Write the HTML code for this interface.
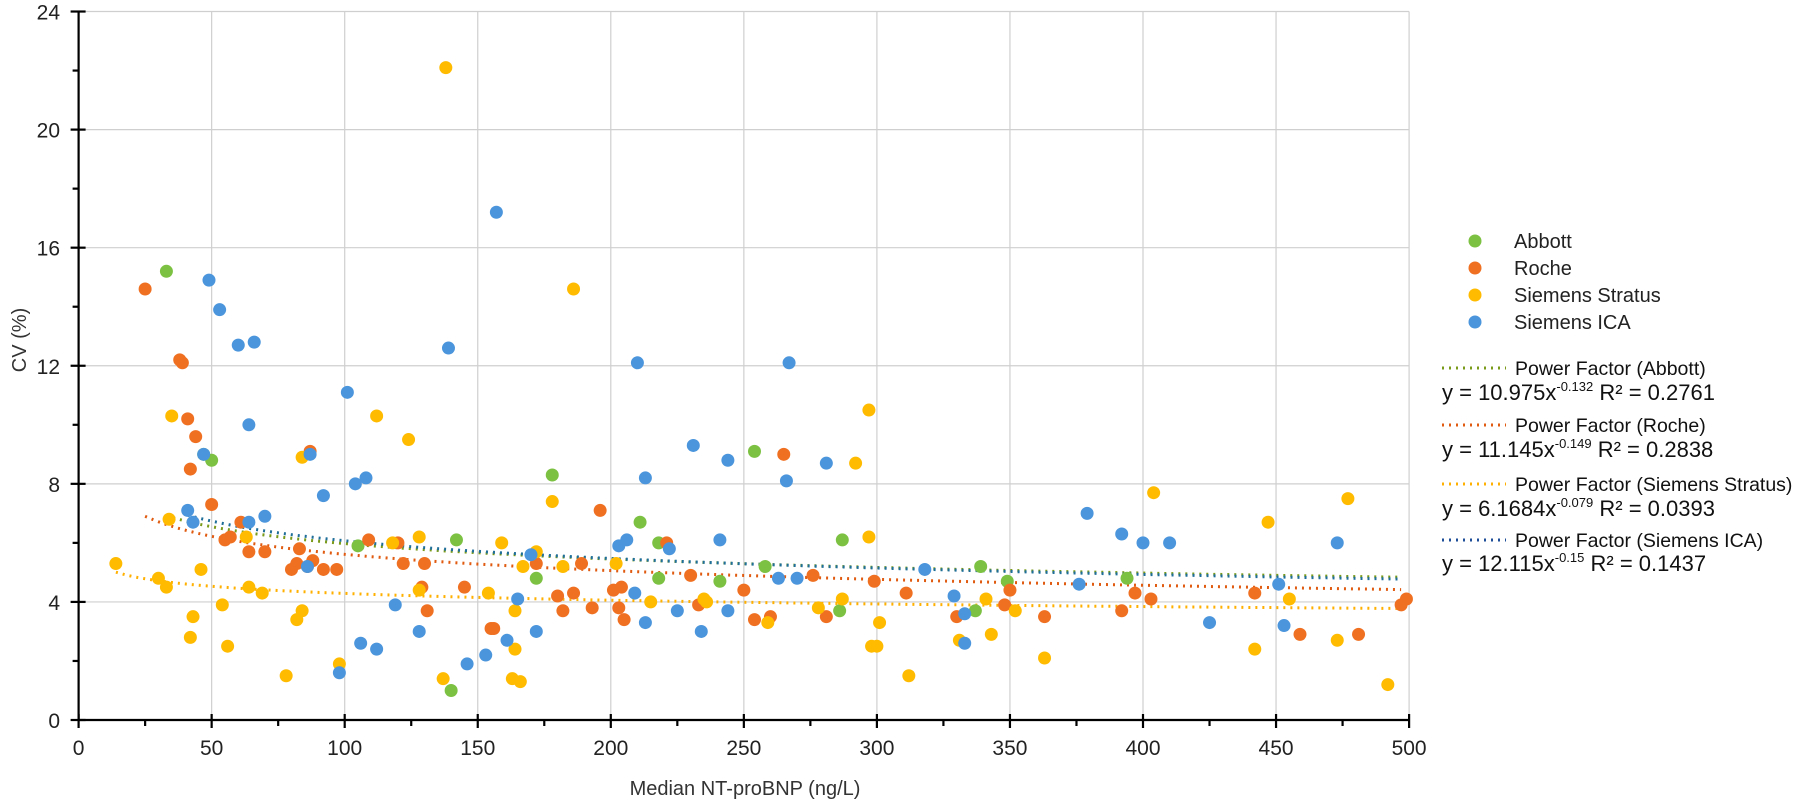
<!DOCTYPE html>
<html><head><meta charset="utf-8"><style>
html,body{margin:0;padding:0;background:#fff;}
svg{display:block;font-family:"Liberation Sans",sans-serif;}
</style></head><body>
<svg id="s" width="1796" height="801" viewBox="0 0 1796 801" xmlns="http://www.w3.org/2000/svg">
<g id="grid" stroke="#cfcfcf" stroke-width="1.2"></g>
<g id="trend"></g>
<g id="pts"></g>
<g id="axes" stroke="#000" stroke-width="2.2"></g>
<g id="labels" font-size="21" fill="#222"></g>
<text x="745" y="795" font-size="20" text-anchor="middle" fill="#333">Median NT-proBNP (ng/L)</text>
<text transform="translate(26,340) rotate(-90)" font-size="20" text-anchor="middle" fill="#333">CV (%)</text>
<g font-size="20" fill="#222">
<circle cx="1475" cy="241" r="6.5" fill="#7cc142"/><text x="1514" y="248">Abbott</text>
<circle cx="1475" cy="268" r="6.5" fill="#f07022"/><text x="1514" y="275">Roche</text>
<circle cx="1475" cy="295" r="6.5" fill="#ffbb00"/><text x="1514" y="302">Siemens Stratus</text>
<circle cx="1475" cy="322" r="6.5" fill="#4a95dc"/><text x="1514" y="329">Siemens ICA</text>
</g>
<g font-size="19.5" fill="#111">
<line x1="1442" y1="368" x2="1506" y2="368" stroke="#7a9a1a" stroke-width="3" stroke-dasharray="2 5"/>
<text x="1515" y="375">Power Factor (Abbott)</text>
<text x="1442" y="400" font-size="22">y = 10.975x<tspan font-size="13" dy="-9">-0.132</tspan><tspan dy="9">  R² = 0.2761</tspan></text>
<line x1="1442" y1="425" x2="1506" y2="425" stroke="#e05a10" stroke-width="3" stroke-dasharray="2 5"/>
<text x="1515" y="432">Power Factor (Roche)</text>
<text x="1442" y="457" font-size="22">y = 11.145x<tspan font-size="13" dy="-9">-0.149</tspan><tspan dy="9">  R² = 0.2838</tspan></text>
<line x1="1442" y1="484" x2="1506" y2="484" stroke="#ffb000" stroke-width="3" stroke-dasharray="2 5"/>
<text x="1515" y="491">Power Factor (Siemens Stratus)</text>
<text x="1442" y="516" font-size="22">y = 6.1684x<tspan font-size="13" dy="-9">-0.079</tspan><tspan dy="9">  R² = 0.0393</tspan></text>
<line x1="1442" y1="540" x2="1506" y2="540" stroke="#1f4e99" stroke-width="3" stroke-dasharray="2 5"/>
<text x="1515" y="547">Power Factor (Siemens ICA)</text>
<text x="1442" y="571" font-size="22">y = 12.115x<tspan font-size="13" dy="-9">-0.15</tspan><tspan dy="9">   R² = 0.1437</tspan></text>
</g>
</svg>
<script>
var NS="http://www.w3.org/2000/svg";
function X(v){return 78.6+2.661*v;}
function Y(v){return 720-29.52*v;}
function el(p,t,a){var e=document.createElementNS(NS,t);for(var k in a)e.setAttribute(k,a[k]);document.getElementById(p).appendChild(e);return e;}
for(var v=50;v<=500;v+=50)el("grid","line",{x1:X(v),y1:Y(0),x2:X(v),y2:Y(24)});
for(var v=4;v<=24;v+=4)el("grid","line",{x1:X(0),y1:Y(v),x2:X(500),y2:Y(v)});
el("axes","line",{x1:X(0),y1:Y(0),x2:X(500),y2:Y(0)});
el("axes","line",{x1:X(0),y1:Y(0),x2:X(0),y2:Y(24)});
for(var v=0;v<=500;v+=25){var m=v%50==0;el("axes","line",{x1:X(v),y1:Y(0)-(m?6:0),x2:X(v),y2:Y(0)+(m?8:6)});}
for(var v=0;v<=24;v+=2){var m=v%4==0;el("axes","line",{x1:X(0)-(m?8:6),y1:Y(v),x2:X(0)+(m?7:0),y2:Y(v)});}
for(var v=0;v<=500;v+=50){var t=el("labels","text",{x:X(v),y:755,"text-anchor":"middle"});t.textContent=v;}
for(var v=0;v<=24;v+=4){var t=el("labels","text",{x:60,y:Y(v)+8,"text-anchor":"end"});t.textContent=v;}
function trend(a,b,x0,c){var d="";for(var x=x0;x<=500;x+=4){d+=(d?"L":"M")+X(x).toFixed(1)+","+Y(a*Math.pow(x,b)).toFixed(1);}
el("trend","path",{d:d,fill:"none",stroke:c,"stroke-width":3,"stroke-dasharray":"2 5"});}
trend(10.975,-0.132,33,"#7a9a1a");trend(11.145,-0.149,25,"#e05a10");trend(6.1684,-0.079,14,"#ffb000");trend(12.115,-0.15,41,"#1f6e99");
var A=[[33,15.2],[50,8.8],[47,9.0],[105,5.9],[142,6.1],[140,1.0],[172,4.8],[178,8.3],[211,6.7],[218,6.0],[218,4.8],[241,4.7],[254,9.1],[258,5.2],[287,6.1],[286,3.7],[339,5.2],[337,3.7],[349,4.7],[394,4.8]];
var R=[[25,14.6],[38,12.2],[39,12.1],[41,10.2],[42,8.5],[44,9.6],[50,7.3],[55,6.1],[57,6.2],[61,6.7],[64,5.7],[70,5.7],[80,5.1],[82,5.3],[83,5.8],[87,9.1],[88,5.4],[86,5.2],[92,5.1],[97,5.1],[109,6.1],[120,6.0],[122,5.3],[129,4.5],[130,5.3],[131,3.7],[145,4.5],[155,3.1],[156,3.1],[172,5.3],[180,4.2],[182,3.7],[186,4.3],[189,5.3],[193,3.8],[196,7.1],[201,4.4],[203,3.8],[204,4.5],[205,3.4],[221,6.0],[230,4.9],[233,3.9],[250,4.4],[254,3.4],[260,3.5],[265,9.0],[276,4.9],[281,3.5],[299,4.7],[311,4.3],[330,3.5],[348,3.9],[350,4.4],[363,3.5],[392,3.7],[397,4.3],[403,4.1],[442,4.3],[459,2.9],[481,2.9],[497,3.9],[499,4.1]];
var S=[[14,5.3],[30,4.8],[33,4.5],[34,6.8],[35,10.3],[42,2.8],[43,3.5],[46,5.1],[54,3.9],[56,2.5],[63,6.2],[64,4.5],[69,4.3],[78,1.5],[82,3.4],[84,3.7],[84,8.9],[98,1.9],[112,10.3],[118,6.0],[124,9.5],[128,6.2],[128,4.4],[137,1.4],[138,22.1],[154,4.3],[159,6.0],[164,2.4],[164,3.7],[163,1.4],[166,1.3],[167,5.2],[172,5.7],[178,7.4],[182,5.2],[186,14.6],[202,5.3],[215,4.0],[235,4.1],[236,4.0],[259,3.3],[278,3.8],[287,4.1],[292,8.7],[297,10.5],[297,6.2],[298,2.5],[300,2.5],[301,3.3],[312,1.5],[331,2.7],[341,4.1],[343,2.9],[352,3.7],[363,2.1],[404,7.7],[442,2.4],[447,6.7],[455,4.1],[473,2.7],[477,7.5],[492,1.2]];
var I=[[41,7.1],[43,6.7],[47,9.0],[49,14.9],[53,13.9],[60,12.7],[64,10.0],[64,6.7],[66,12.8],[70,6.9],[86,5.2],[87,9.0],[92,7.6],[98,1.6],[101,11.1],[104,8.0],[106,2.6],[108,8.2],[112,2.4],[119,3.9],[128,3.0],[139,12.6],[146,1.9],[153,2.2],[157,17.2],[161,2.7],[165,4.1],[170,5.6],[172,3.0],[203,5.9],[206,6.1],[209,4.3],[210,12.1],[213,3.3],[213,8.2],[222,5.8],[225,3.7],[231,9.3],[234,3.0],[241,6.1],[244,8.8],[244,3.7],[263,4.8],[266,8.1],[267,12.1],[270,4.8],[281,8.7],[318,5.1],[329,4.2],[333,3.6],[333,2.6],[376,4.6],[379,7.0],[392,6.3],[400,6.0],[410,6.0],[425,3.3],[451,4.6],[453,3.2],[473,6.0]];
function pts(L,c){L.forEach(function(p){el("pts","circle",{cx:X(p[0]),cy:Y(p[1]),r:6.5,fill:c});});}
pts(A,"#7cc142");pts(R,"#f07022");pts(S,"#ffbb00");pts(I,"#4a95dc");
</script>
</body></html>
